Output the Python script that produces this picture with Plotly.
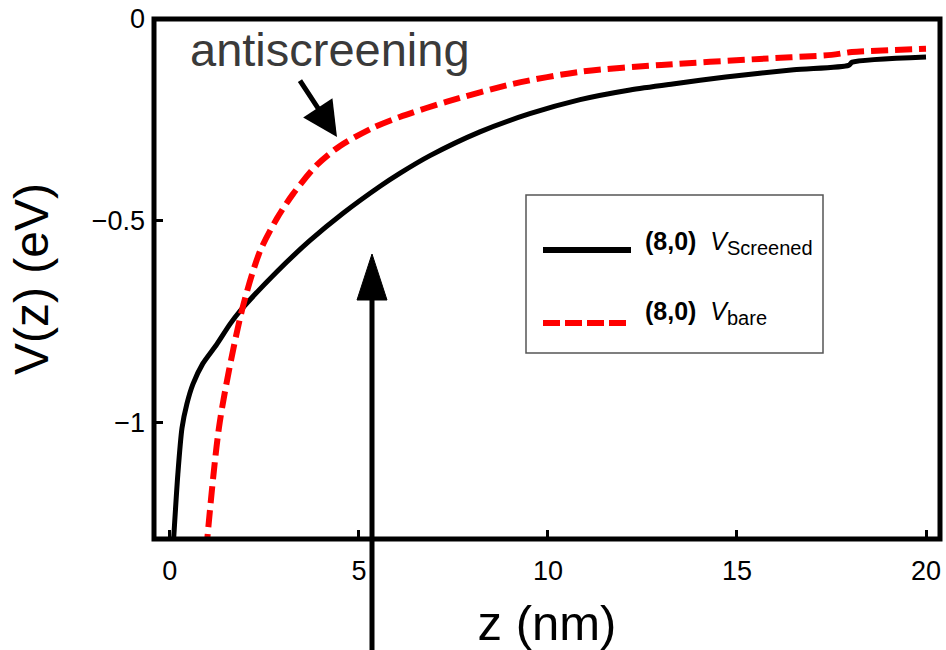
import plotly.graph_objects as go

# Potential profiles for the (8,0) tube
z_screened = [0.08, 0.21, 0.32, 0.45, 0.61, 0.87, 1.24, 1.59, 1.85, 2.83, 3.7, 4.58,
              5.56, 6.08, 6.88, 8.2, 9.52, 10.85, 12.17, 13.3, 14.7, 16.5, 17.95, 18.05, 20.0]
v_screened = [-1.32, -1.13, -1.015, -0.955, -0.906, -0.855, -0.807, -0.757, -0.725, -0.627,
              -0.550, -0.482, -0.415, -0.383, -0.339, -0.28, -0.235, -0.2, -0.176, -0.161,
              -0.144, -0.126, -0.115, -0.107, -0.094]

z_bare = [0.96, 1.32, 1.9, 2.38, 2.83, 3.25, 3.89, 4.5, 5.37, 6.08, 7.33, 9.07, 10.85,
          13.0, 15.6, 17.5, 18.04, 20.0]
v_bare = [-1.32, -1.0, -0.725, -0.577, -0.495, -0.435, -0.362, -0.315, -0.270, -0.243,
          -0.205, -0.161, -0.131, -0.114, -0.099, -0.089, -0.082, -0.074]

x_ticks = [0, 5, 10, 15, 20]
y_ticks = [0, -0.5, -1]
y_tick_text = ["0", "\u22120.5", "\u22121"]

FONT = "Liberation Sans, Arial, Helvetica, sans-serif"

fig = go.Figure()
fig.add_trace(go.Scatter(x=z_screened, y=v_screened, mode="lines",
                         name="(8,0) V_Screened", showlegend=False,
                         line=dict(color="black", width=5, shape="spline", smoothing=0.7)))
fig.add_trace(go.Scatter(x=z_bare, y=v_bare, mode="lines",
                         name="(8,0) V_bare", showlegend=False,
                         line=dict(color="#ff0000", width=6, dash="17px,7px",
                                   shape="spline", smoothing=0.8)))

# pixel -> paper helpers for the decorations
L, R, T, B = 154, 6, 19, 111
W, H = 946, 650
PW, PH = W - L - R, H - T - B


def px(xp):
    return (xp - L) / PW


def py(yp):
    return (H - B - yp) / PH


shapes = [
    # frame
    dict(type="rect", xref="paper", yref="paper", x0=0, x1=1, y0=0, y1=1,
         line=dict(color="black", width=5), layer="above"),
    # legend box
    dict(type="rect", xref="paper", yref="paper", x0=px(526), x1=px(823),
         y0=py(353), y1=py(195), line=dict(color="#555555", width=1.5),
         fillcolor="white", layer="above"),
    dict(type="line", xref="paper", yref="paper", x0=px(543), x1=px(631),
         y0=py(250), y1=py(250), line=dict(color="black", width=6), layer="above"),
    dict(type="line", xref="paper", yref="paper", x0=px(543), x1=px(628),
         y0=py(323), y1=py(323), line=dict(color="#ff0000", width=6, dash="17px,5px"),
         layer="above"),
    # large upward arrow
    dict(type="line", xref="paper", yref="paper", x0=px(372), x1=px(372),
         y0=py(670), y1=py(298), line=dict(color="black", width=5), layer="above"),
    dict(type="path", xref="paper", yref="paper",
         path=f"M {px(372)},{py(254)} L {px(357)},{py(300)} L {px(387)},{py(300)} Z",
         fillcolor="black", line=dict(color="black", width=1), layer="above"),
]

annotations = [
    dict(x=4.23, y=-0.075, xref="x", yref="y", text="antiscreening", showarrow=False,
         font=dict(family=FONT, size=47, color="#3a3a3a")),
    dict(x=4.42, y=-0.293, xref="x", yref="y", text="", showarrow=True,
         ax=-38, ay=-58, arrowhead=2, arrowsize=1.4, arrowwidth=5,
         arrowcolor="black", standoff=0),
    dict(x=px(643), y=py(243), xref="paper", yref="paper", xanchor="left",
         yanchor="middle", showarrow=False,
         text="<b>(8,0)</b>  <i>V</i><sub><span style='font-size:20px'>Screened</span></sub>",
         font=dict(family=FONT, size=25, color="black")),
    dict(x=px(643), y=py(313), xref="paper", yref="paper", xanchor="left",
         yanchor="middle", showarrow=False,
         text="<b>(8,0)</b>  <i>V</i><sub><span style='font-size:20px'>bare</span></sub>",
         font=dict(family=FONT, size=25, color="black")),
]

fig.update_layout(
    width=W, height=H,
    margin=dict(l=L, r=R, t=T, b=B, pad=0),
    paper_bgcolor="white", plot_bgcolor="white",
    font=dict(family=FONT, size=27, color="black"),
    shapes=shapes, annotations=annotations,
    xaxis=dict(range=[-0.42, 20.37], tickvals=x_ticks, ticks="inside", ticklen=9,
               tickwidth=3, tickcolor="black", showgrid=False, zeroline=False,
               showline=False, automargin=False, ticklabelstandoff=13,
               tickfont=dict(size=27),
               title=dict(text="z (nm)", font=dict(size=49), standoff=20)),
    yaxis=dict(range=[-1.29, 0], tickvals=y_ticks, ticktext=y_tick_text,
               ticks="inside", ticklen=9, tickwidth=3, tickcolor="black",
               showgrid=False, zeroline=False, showline=False, automargin=False,
               ticklabelstandoff=8, tickfont=dict(size=27),
               title=dict(text="V(z) (eV)", font=dict(size=48), standoff=27)),
)

fig.write_html("out.html")
